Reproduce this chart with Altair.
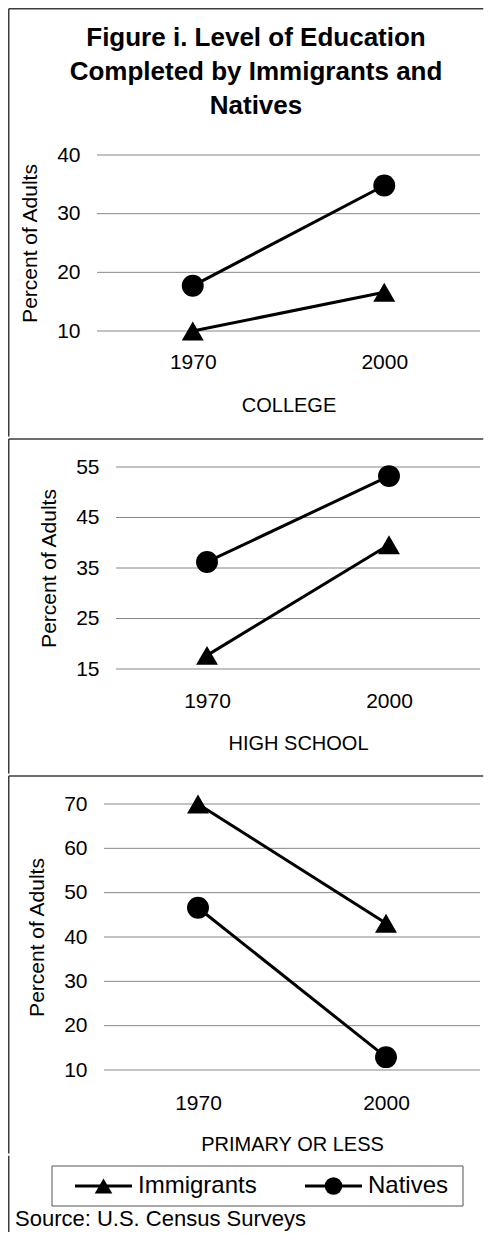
import altair as alt
import pandas as pd

# ---------------- data ----------------
years = ["1970", "2000"]
series_names = ["Immigrants", "Natives"]
series_shapes = ["triangle-up", "circle"]

college_immigrants = [10.0, 16.6]
college_natives = [17.7, 34.8]
highschool_immigrants = [17.7, 39.6]
highschool_natives = [36.2, 53.2]
primary_immigrants = [70.0, 43.1]
primary_natives = [46.6, 12.9]

college_ticks = [10, 20, 30, 40]
highschool_ticks = [15, 25, 35, 45, 55]
primary_ticks = [10, 20, 30, 40, 50, 60, 70]

panel_titles = ["COLLEGE", "HIGH SCHOOL", "PRIMARY OR LESS"]
y_title = "Percent of Adults"
title_lines = ["Figure i. Level of Education", "Completed by Immigrants and", "Natives"]
source_text = "Source: U.S. Census Surveys"

# ---------------- styling ----------------
FONT = "Liberation Sans, Arial, sans-serif"
GRID = "#868686"
FRAME = "#3c3c3c"
FRAME_L = 0.75     # x of the left frame line
FRAME_R = 475.25   # x where the horizontal frame lines end
PANEL_W = 475
one = pd.DataFrame({"k": [0]})


def frame_layers(top_rel, bottom_rel, top_visible=True):
    top_rule = alt.Chart(one).mark_rule(color=FRAME, strokeWidth=1.5,
                                        opacity=1 if top_visible else 0).encode(
        x=alt.value(FRAME_L), x2=alt.value(FRAME_R), y=alt.value(top_rel))
    left_rule = alt.Chart(one).mark_rule(color=FRAME, strokeWidth=1.5).encode(
        x=alt.value(FRAME_L), y=alt.value(top_rel), y2=alt.value(bottom_rel))
    bottom_rule = alt.Chart(one).mark_rule(color=FRAME, strokeWidth=1.5, opacity=0).encode(
        x=alt.value(FRAME_L), x2=alt.value(FRAME_R), y=alt.value(bottom_rel))
    return [top_rule, left_rule, bottom_rule]


def panel(imm, nat, ticks, xtitle, pl, pr, height, top_rel, bottom_rel, label_pad_x=21):
    df = pd.DataFrame({
        "year": years + years,
        "series": [series_names[0]] * 2 + [series_names[1]] * 2,
        "value": imm + nat,
    })
    grid_df = pd.DataFrame({"value": ticks})

    x = alt.X("year:N", sort=years,
              scale=alt.Scale(type="point", padding=0.5, range=[pl, pr]),
              axis=alt.Axis(title=xtitle, labelAngle=0, labelFontSize=21, labelFont=FONT,
                            labelColor="black", labelPadding=label_pad_x, ticks=False,
                            domain=False, grid=False, titleFontSize=20, titleFont=FONT,
                            titleFontWeight="normal", titleColor="black", titleY=64,
                            titleX=(pl + pr) / 2, titleBaseline="top", titleAlign="center"))
    y = alt.Y("value:Q", scale=alt.Scale(domain=[ticks[0], ticks[-1]], nice=False, zero=False),
              axis=alt.Axis(title=y_title, values=ticks, grid=False, ticks=False, domain=False,
                            offset=-(pl - 17), labelPadding=0,
                            labelFontSize=21, labelFont=FONT, labelColor="black",
                            titleFontSize=21, titleFont=FONT, titleFontWeight="normal",
                            titleColor="black", titleX=-39.5, titleY=height / 2,
                            titleAngle=270, titleBaseline="bottom", titleAlign="center"))

    gridlines = alt.Chart(grid_df).mark_rule(color=GRID, strokeWidth=1).encode(
        y=y, x=alt.value(pl), x2=alt.value(pr))

    base = alt.Chart(df)
    lines = base.mark_line(color="black", strokeWidth=3).encode(x=x, y=y, detail="series:N")
    points = base.mark_point(filled=True, color="black", size=480, opacity=1).encode(
        x=x, y=y,
        shape=alt.Shape("series:N", scale=alt.Scale(domain=series_names, range=series_shapes),
                        legend=None))

    layers = frame_layers(top_rel, bottom_rel) + [gridlines, lines, points]
    return alt.layer(*layers).properties(width=PANEL_W, height=height)


# ---------------- panels ----------------
p1 = panel(college_immigrants, college_natives, college_ticks, panel_titles[0],
           pl=89, pr=472, height=176, top_rel=-146.25, bottom_rel=281.5, label_pad_x=20)
p2 = panel(highschool_immigrants, highschool_natives, highschool_ticks, panel_titles[1],
           pl=108, pr=472, height=202, top_rel=-28, bottom_rel=306.5, label_pad_x=21)
p3 = panel(primary_immigrants, primary_natives, primary_ticks, panel_titles[2],
           pl=96, pr=472, height=266, top_rel=-28, bottom_rel=349.5, label_pad_x=22)

# ---------------- legend strip + source ----------------
leg_df = pd.DataFrame({"series": series_names})
leg_x = alt.X("series:N", sort=series_names,
              scale=alt.Scale(type="point", domain=series_names, range=[95.5, 325.5], padding=0),
              axis=None)
leg_box = alt.Chart(one).mark_rect(fill="white", fillOpacity=0, stroke="#555555",
                                   strokeWidth=1).encode(
    x=alt.value(44), x2=alt.value(455), y=alt.value(0), y2=alt.value(40))
leg_lines = alt.Chart(leg_df).mark_rule(color="black", strokeWidth=3, xOffset=-28.5,
                                        x2Offset=28.5).encode(
    x=leg_x, x2=alt.X2("series:N"), y=alt.value(20))
leg_points = alt.Chart(leg_df).mark_point(filled=True, color="black", size=310,
                                          opacity=1).encode(
    x=leg_x, y=alt.value(20),
    shape=alt.Shape("series:N", scale=alt.Scale(domain=series_names, range=series_shapes),
                    legend=None))
leg_text = alt.Chart(leg_df).mark_text(align="left", baseline="middle", dx=34.5, fontSize=24,
                                       font=FONT, color="black").encode(
    x=leg_x, y=alt.value(20), text="series:N")

legend_cell = alt.layer(
    *frame_layers(-10.25, 66, top_visible=False), leg_box, leg_lines, leg_points, leg_text
).properties(
    width=PANEL_W, height=40,
    title=alt.TitleParams(source_text, orient="bottom", anchor="start", frame="bounds",
                          baseline="top", offset=-23.35, dx=7, fontSize=22, font=FONT,
                          fontWeight="normal", color="black"))

chart = alt.vconcat(p1, p2, p3, legend_cell, spacing=0).properties(
    title=alt.TitleParams(title_lines, anchor="middle", frame="bounds", baseline="top",
                          offset=-110.5, dx=10, fontSize=26, fontWeight="bold", font=FONT,
                          color="black", lineHeight=34),
    padding=0, background="white",
).configure_view(stroke=None)

chart.save("out.html", embed_options={"renderer": "svg", "actions": False})
